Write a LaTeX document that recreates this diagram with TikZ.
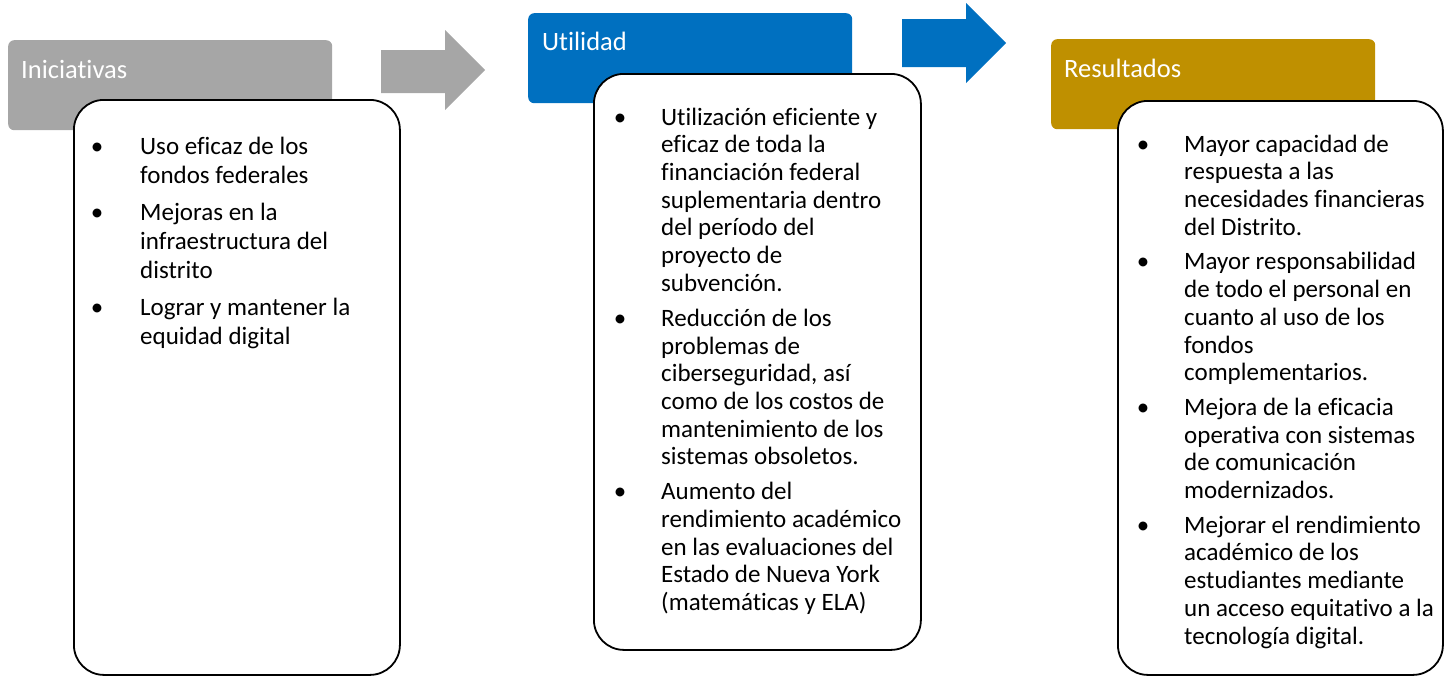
\documentclass[tikz,border=0pt]{standalone}
\usepackage{fontspec}
\setmainfont{Carlito}[Ligatures=NoCommon]
\usetikzlibrary{positioning}
\definecolor{grauton}{HTML}{A6A6A6}
\definecolor{blauton}{HTML}{0070C0}
\definecolor{goldton}{HTML}{BF9000}
\tikzset{
	kopf/.style={rounded corners=6pt,minimum width=324pt,minimum height=90pt,inner sep=0pt,anchor=north west},
	kopftext/.style={text=white,font=\fontsize{26.5}{31}\selectfont,anchor=base west,inner sep=0pt},
	kasten/.style={draw=black,line width=1.8pt,fill=white,rounded corners=30pt,inner sep=0pt,anchor=north west},
	liste/.style={anchor=north west,inner sep=0pt,align=left},
}
\newcommand{\pkt}{\makebox[0pt]{\textbullet}}
\begin{document}
\begin{tikzpicture}[x=1pt,y=-1pt]
	\useasboundingbox (0,0) rectangle (1447,675);
	% Kopfzeilen
	\node[kopf,fill=grauton] (iniKopf) at (8,40) {};
	\node[kopf,fill=blauton] (utiKopf) at (528,13) {};
	\node[kopf,fill=goldton] (resKopf) at (1051,39) {};
	\node[kopftext] (iniText) at (21,78) {Iniciativas};
	\node[kopftext] (utiText) at (542,50) {Utilidad};
	\node[kopftext] (resText) at (1064,77) {Resultados};
	% Pfeile
	\fill[grauton] (381,50) to ++(64,0) to ++(0,-20) to (485,70) to (445,110) to ++(0,-17) to ++(-64,0) to cycle;
	\fill[blauton] (902,19) to ++(64,0) to ++(0,-16) to (1006,43) to (966,83) to ++(0,-16) to ++(-64,0) to cycle;
	% Kaesten
	\node[kasten,minimum width=326pt,minimum height=575pt] (iniBox) at (73,99) {};
	\node[kasten,minimum width=327pt,minimum height=576pt] (utiBox) at (593,73) {};
	\node[kasten,minimum width=325pt,minimum height=574pt] (resBox) at (1117,100) {};
	% Listen
	\node[liste,font=\fontsize{25}{28.7}\selectfont] (iniListe) at (97,134.6) {%
		\begin{tabular}{@{}p{43pt}@{}l@{}}
			\pkt & Uso eficaz de los\\
			& fondos federales\\[8.5pt]
			\pkt & Mejoras en la\\
			& infraestructura del\\
			& distrito\\[8.5pt]
			\pkt & Lograr y mantener la\\
			& equidad digital
		\end{tabular}};
	\node[liste,font=\fontsize{25}{27.7}\selectfont] (utiListe) at (620,105.6) {%
		\begin{tabular}{@{}p{41pt}@{}l@{}}
			\pkt & Utilización eficiente y\\
			& eficaz de toda la\\
			& financiación federal\\
			& suplementaria dentro\\
			& del período del\\
			& proyecto de\\
			& subvención.\\[7.3pt]
			\pkt & Reducción de los\\
			& problemas de\\
			& ciberseguridad, así\\
			& como de los costos de\\
			& mantenimiento de los\\
			& sistemas obsoletos.\\[7.3pt]
			\pkt & Aumento del\\
			& rendimiento académico\\
			& en las evaluaciones del\\
			& Estado de Nueva York\\
			& (matemáticas y ELA)
		\end{tabular}};
	\node[liste,font=\fontsize{25}{27.7}\selectfont] (resListe) at (1143,132.6) {%
		\begin{tabular}{@{}p{41pt}@{}l@{}}
			\pkt & Mayor capacidad de\\
			& respuesta a las\\
			& necesidades financieras\\
			& del Distrito.\\[7pt]
			\pkt & Mayor responsabilidad\\
			& de todo el personal en\\
			& cuanto al uso de los\\
			& fondos\\
			& complementarios.\\[7pt]
			\pkt & Mejora de la eficacia\\
			& operativa con sistemas\\
			& de comunicación\\
			& modernizados.\\[7pt]
			\pkt & Mejorar el rendimiento\\
			& académico de los\\
			& estudiantes mediante\\
			& un acceso equitativo a la\\
			& tecnología digital.
		\end{tabular}};
\end{tikzpicture}
\end{document}
